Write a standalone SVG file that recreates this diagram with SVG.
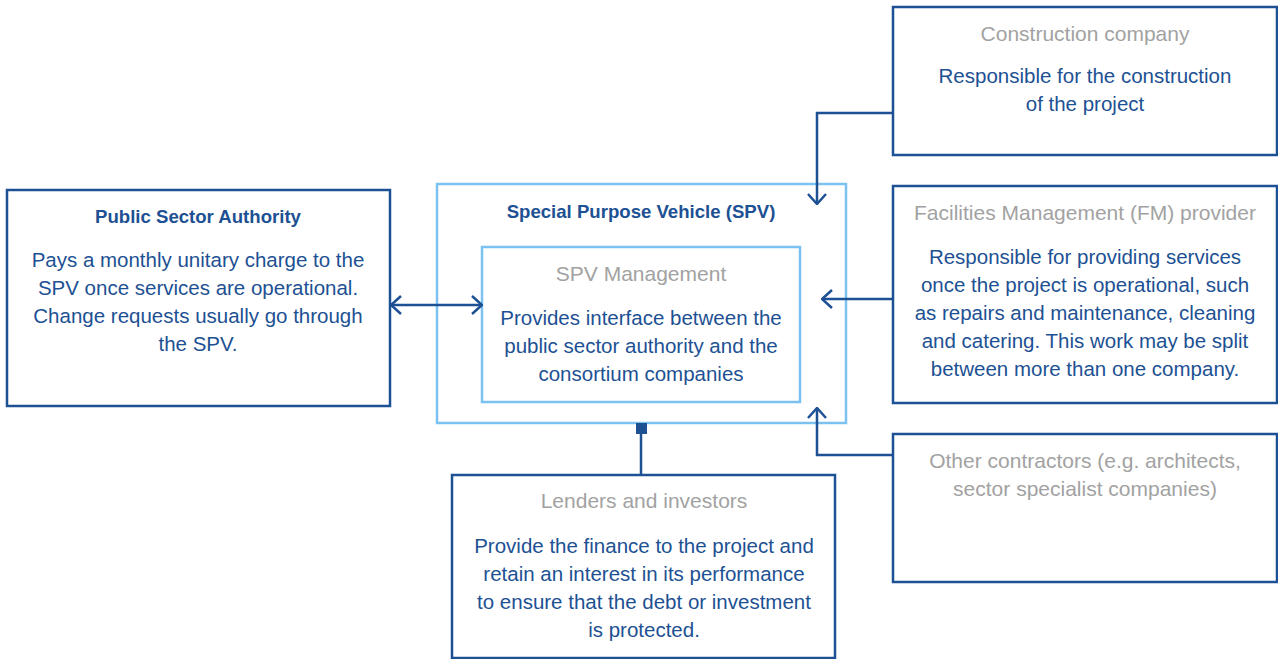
<svg xmlns="http://www.w3.org/2000/svg" width="1278" height="659" viewBox="0 0 1278 659">
<style>
.box{fill:#fff;stroke:#1d5193;stroke-width:2.5}
.lbox{fill:#fff;stroke:#7cc2f0;stroke-width:2.5}
.t{font-family:"Liberation Sans","DejaVu Sans",sans-serif;font-size:20.5px;text-anchor:middle;fill:#1d5193}
.g{fill:#a2a2a2;font-size:21px}
.b{font-weight:bold;font-size:18.6px}
.c{fill:none;stroke:#1d5193;stroke-width:2.5}
</style>
<defs>
<marker id="ah" viewBox="0 0 12 20" refX="11" refY="10" markerWidth="12" markerHeight="20" markerUnits="userSpaceOnUse" orient="auto-start-reverse">
<path d="M1,1 L11,10 L1,19" fill="none" stroke="#1d5193" stroke-width="2.5"/>
</marker>
</defs>
<g id="spv">
<rect class="lbox" x="437" y="184" width="409" height="239"/>
<text class="t b" x="641" y="218">Special Purpose Vehicle (SPV)</text>
</g>
<g id="spv-management">
<rect class="lbox" x="482" y="247" width="318" height="155"/>
<text class="t g" x="641" y="281">SPV Management</text>
<text class="t" x="641" y="325">Provides interface between the</text>
<text class="t" x="641" y="353">public sector authority and the</text>
<text class="t" x="641" y="381">consortium companies</text>
</g>
<g id="public-sector">
<rect class="box" x="7" y="190" width="383" height="216"/>
<text class="t b" x="198" y="223">Public Sector Authority</text>
<text class="t" x="198" y="267">Pays a monthly unitary charge to the</text>
<text class="t" x="198" y="295">SPV once services are operational.</text>
<text class="t" x="198" y="323">Change requests usually go through</text>
<text class="t" x="198" y="351">the SPV.</text>
</g>
<g id="construction">
<rect class="box" x="893" y="7" width="384" height="148"/>
<text class="t g" x="1085" y="41">Construction company</text>
<text class="t" x="1085" y="83">Responsible for the construction</text>
<text class="t" x="1085" y="111">of the project</text>
</g>
<g id="fm-provider">
<rect class="box" x="893" y="186" width="384" height="217"/>
<text class="t g" x="1085" y="220">Facilities Management (FM) provider</text>
<text class="t" x="1085" y="264">Responsible for providing services</text>
<text class="t" x="1085" y="292">once the project is operational, such</text>
<text class="t" x="1085" y="320">as repairs and maintenance, cleaning</text>
<text class="t" x="1085" y="348">and catering. This work may be split</text>
<text class="t" x="1085" y="376">between more than one company.</text>
</g>
<g id="other-contractors">
<rect class="box" x="893" y="434" width="384" height="148"/>
<text class="t g" x="1085" y="468">Other contractors (e.g. architects,</text>
<text class="t g" x="1085" y="496">sector specialist companies)</text>
</g>
<g id="lenders">
<rect class="box" x="452" y="475" width="383" height="183"/>
<text class="t g" x="644" y="508">Lenders and investors</text>
<text class="t" x="644" y="553">Provide the finance to the project and</text>
<text class="t" x="644" y="581">retain an interest in its performance</text>
<text class="t" x="644" y="609">to ensure that the debt or investment</text>
<text class="t" x="644" y="637">is protected.</text>
</g>
<g id="connectors">
<line class="c" x1="391" y1="305" x2="482" y2="305" marker-start="url(#ah)" marker-end="url(#ah)"/>
<polyline class="c" points="893,113 817,113 817,204" marker-end="url(#ah)"/>
<line class="c" x1="893" y1="299" x2="822" y2="299" marker-end="url(#ah)"/>
<polyline class="c" points="893,455 817,455 817,408" marker-end="url(#ah)"/>
<line class="c" x1="641" y1="475" x2="641" y2="430"/>
<rect x="636" y="423" width="11" height="11" fill="#1d5193"/>
</g>
</svg>
